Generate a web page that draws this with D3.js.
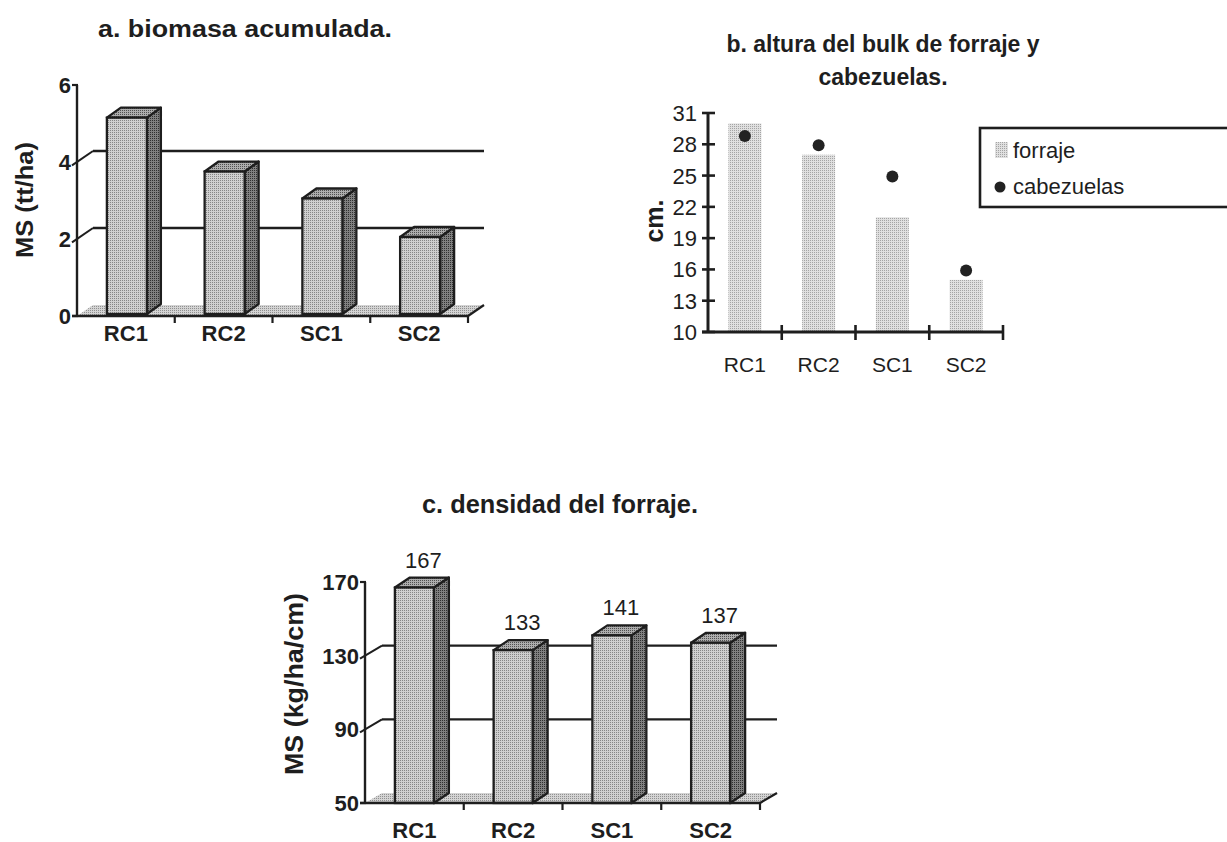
<!DOCTYPE html>
<html>
<head>
<meta charset="utf-8">
<script src="https://cdn.jsdelivr.net/npm/d3@7"></script>
<style>
  body { margin: 0; background: #fff; }
  svg { display: block; }
  text { font-family: "Liberation Sans", Arial, Helvetica, sans-serif; fill: #1e1e1e; }
</style>
</head>
<body>
<svg id="fig" width="1227" height="842"></svg>
<script>
// ---- data ----
const categories = ["RC1", "RC2", "SC1", "SC2"];

// a. biomasa acumulada (MS, tt/ha)
const biomasa = [5.1, 3.7, 3.0, 2.0];
const biomasaTicks = [0, 2, 4, 6];

// b. altura del bulk de forraje y cabezuelas (cm)
const forraje = [30, 27, 21, 15];
const cabezuelas = [28.8, 27.9, 24.9, 15.9];
const alturaTicks = [10, 13, 16, 19, 22, 25, 28, 31];

// c. densidad del forraje (MS, kg/ha/cm)
const densidad = [167, 133, 141, 137];
const densidadTicks = [50, 90, 130, 170];

const ink = "#1e1e1e";
const svg = d3.select("#fig");

// ---- stippled fills ----
const defs = svg.append("defs");
function stipple(id, base, dot) {
  const p = defs.append("pattern").attr("id", id)
    .attr("patternUnits", "userSpaceOnUse").attr("width", 2).attr("height", 2);
  p.append("rect").attr("width", 2).attr("height", 2).attr("fill", base);
  p.append("rect").attr("width", 1).attr("height", 1).attr("fill", dot);
  return `url(#${id})`;
}
const fillFront = stipple("front", "#cfcfcf", "#858585");
const fillSide = stipple("side", "#808080", "#303030");
const fillTop = stipple("top", "#adadad", "#505050");
const fillFloor = stipple("floor", "#d4d4d4", "#909090");
const fillLight = stipple("light", "#e0e0e0", "#a4a4a4");

// ---- 3D column chart ----
function columns3d(opt) {
  const g = svg.append("g");
  const x = d3.scaleBand().domain(categories).range(opt.xRange);
  const y = d3.scaleLinear().domain(opt.yDomain).range(opt.yRange);
  const [dx, dy] = opt.depth;
  const [bx, by] = opt.barDepth;
  const [ix, iy] = opt.inset;
  const y0 = y(opt.yDomain[0]);
  const [xl, xr] = opt.xRange;

  // back-wall gridlines
  g.selectAll(".grid").data(opt.grid).join("line")
    .attr("x1", xl + dx).attr("x2", xr + dx)
    .attr("y1", d => y(d) + dy).attr("y2", d => y(d) + dy)
    .attr("stroke", ink).attr("stroke-width", 2.4);

  // slanted depth ticks joining the axis to the wall
  g.selectAll(".dtick").data(opt.grid).join("line")
    .attr("x1", xl - 5).attr("y1", d => y(d) - dy * 5 / dx)
    .attr("x2", xl + dx).attr("y2", d => y(d) + dy)
    .attr("stroke", ink).attr("stroke-width", 2);

  // floor
  g.append("polygon")
    .attr("points", [[xl, y0], [xr, y0], [xr + dx, y0 + dy], [xl + dx, y0 + dy]].join(" "))
    .attr("fill", fillFloor).attr("stroke", "none");

  // columns
  const bw = opt.barWidth;
  const bars = g.selectAll(".bar").data(opt.values).join("g");
  const left = (d, i) => x(categories[i]) + x.bandwidth() / 2 - bw / 2 + ix;
  bars.append("polygon") // side face
    .attr("points", (d, i) => {
      const a = left(d, i) + bw, t = y(d) + iy, b = y0 + iy;
      return [[a, t], [a + bx, t + by], [a + bx, b + by], [a, b]].join(" ");
    })
    .attr("fill", fillSide).attr("stroke", ink).attr("stroke-width", 2.3).attr("stroke-linejoin", "round");
  bars.append("polygon") // top face
    .attr("points", (d, i) => {
      const a = left(d, i), t = y(d) + iy;
      return [[a, t], [a + bx, t + by], [a + bw + bx, t + by], [a + bw, t]].join(" ");
    })
    .attr("fill", fillTop).attr("stroke", ink).attr("stroke-width", 2.3).attr("stroke-linejoin", "round");
  bars.append("rect") // front face
    .attr("x", (d, i) => left(d, i)).attr("y", d => y(d) + iy)
    .attr("width", bw).attr("height", d => y0 - y(d))
    .attr("fill", fillFront).attr("stroke", ink).attr("stroke-width", 2.3);

  // value axis
  g.append("line").attr("x1", xl).attr("x2", xl)
    .attr("y1", y0).attr("y2", y(opt.yDomain[1]))
    .attr("stroke", ink).attr("stroke-width", 2.4);
  g.selectAll(".ltick").data([opt.yDomain[0], opt.yDomain[1]]).join("line")
    .attr("x1", xl - 5).attr("x2", xl + 1)
    .attr("y1", d => y(d)).attr("y2", d => y(d))
    .attr("stroke", ink).attr("stroke-width", 2.2);
  g.selectAll(".ylab").data(opt.ticks).join("text")
    .attr("x", xl - 6).attr("y", d => y(d) + 8)
    .attr("text-anchor", "end").attr("font-weight", "bold")
    .attr("font-size", opt.tickSize).text(d => d);

  // category axis
  g.append("line").attr("x1", xl - 5).attr("x2", xr)
    .attr("y1", y0).attr("y2", y0).attr("stroke", ink).attr("stroke-width", 2.6);
  g.append("line").attr("x1", xr).attr("y1", y0).attr("x2", xr + dx).attr("y2", y0 + dy)
    .attr("stroke", ink).attr("stroke-width", 2.2);
  g.selectAll(".xtick").data(categories).join("line")
    .attr("x1", d => x(d) + x.bandwidth()).attr("x2", d => x(d) + x.bandwidth())
    .attr("y1", y0).attr("y2", y0 + 7)
    .attr("stroke", ink).attr("stroke-width", 2.2);
  g.selectAll(".xlab").data(categories).join("text")
    .attr("x", d => x(d) + x.bandwidth() / 2).attr("y", opt.xLabelY)
    .attr("text-anchor", "middle").attr("font-weight", "bold")
    .attr("font-size", opt.xLabelSize).text(d => d);

  // titles
  g.append("text").attr("x", opt.title.x).attr("y", opt.title.y)
    .attr("text-anchor", "middle").attr("font-weight", "bold")
    .attr("font-size", opt.title.size)
    .attr("textLength", opt.title.len).attr("lengthAdjust", "spacingAndGlyphs")
    .text(opt.title.text);
  g.append("text")
    .attr("transform", `translate(${opt.yTitle.x},${opt.yTitle.y}) rotate(-90)`)
    .attr("text-anchor", "middle").attr("font-weight", "bold")
    .attr("font-size", opt.yTitle.size)
    .attr("textLength", opt.yTitle.len).attr("lengthAdjust", "spacingAndGlyphs")
    .text(opt.yTitle.text);

  return { g, x, y, bw, left, iy, by, bx };
}

// ---- a. biomasa acumulada ----
columns3d({
  values: biomasa, ticks: biomasaTicks, grid: [2, 4],
  xRange: [77, 468], yDomain: [0, 6], yRange: [316, 85],
  depth: [16, -11], barDepth: [14, -10], inset: [1, -2], barWidth: 40,
  tickSize: 22, xLabelSize: 22, xLabelY: 341,
  title: { text: "a. biomasa acumulada.", x: 245, y: 37, size: 23, len: 294 },
  yTitle: { text: "MS (tt/ha)", x: 33, y: 200, size: 24, len: 116 }
});

// ---- c. densidad del forraje ----
const c = columns3d({
  values: densidad, ticks: densidadTicks, grid: [90, 130],
  xRange: [365, 760], yDomain: [50, 170], yRange: [803, 582],
  depth: [17, -10], barDepth: [15, -10], inset: [0, 0], barWidth: 39,
  tickSize: 22, xLabelSize: 22, xLabelY: 838,
  title: { text: "c. densidad del forraje.", x: 560, y: 513, size: 25, len: 276 },
  yTitle: { text: "MS (kg/ha/cm)", x: 303, y: 684, size: 25, len: 182 }
});
c.g.selectAll(".val").data(densidad).join("text")
  .attr("x", (d, i) => c.left(d, i) + c.bw / 2 + 9)
  .attr("y", d => c.y(d) + c.by - 10)
  .attr("text-anchor", "middle").attr("font-size", 22)
  .text(d => d);

// ---- b. altura del bulk de forraje y cabezuelas ----
{
  const g = svg.append("g");
  const x = d3.scaleBand().domain(categories).range([708, 1003]);
  const y = d3.scaleLinear().domain([10, 31]).range([332, 113]);
  const bw = 33;

  g.selectAll(".bar").data(forraje).join("rect")
    .attr("x", (d, i) => x(categories[i]) + x.bandwidth() / 2 - bw / 2)
    .attr("y", d => y(d)).attr("width", bw).attr("height", d => y(10) - y(d))
    .attr("fill", fillLight);

  g.selectAll(".dot").data(cabezuelas).join("circle")
    .attr("cx", (d, i) => x(categories[i]) + x.bandwidth() / 2)
    .attr("cy", d => y(d)).attr("r", 6).attr("fill", "#222");

  // value axis with crossing ticks
  g.append("line").attr("x1", 708).attr("x2", 708).attr("y1", y(10)).attr("y2", y(31))
    .attr("stroke", ink).attr("stroke-width", 3);
  g.selectAll(".yt").data(alturaTicks).join("line")
    .attr("x1", 702).attr("x2", 715).attr("y1", d => y(d)).attr("y2", d => y(d))
    .attr("stroke", ink).attr("stroke-width", 2.6);
  g.selectAll(".yl").data(alturaTicks).join("text")
    .attr("x", 697).attr("y", d => y(d) + 8).attr("text-anchor", "end")
    .attr("font-size", 22).text(d => d);

  // category axis
  g.append("line").attr("x1", 702).attr("x2", 1003).attr("y1", y(10)).attr("y2", y(10))
    .attr("stroke", ink).attr("stroke-width", 3);
  g.selectAll(".xt").data(categories).join("line")
    .attr("x1", d => x(d) + x.bandwidth()).attr("x2", d => x(d) + x.bandwidth())
    .attr("y1", y(10) - 7).attr("y2", y(10) + 8)
    .attr("stroke", ink).attr("stroke-width", 2.6);
  g.selectAll(".xl").data(categories).join("text")
    .attr("x", d => x(d) + x.bandwidth() / 2).attr("y", 372)
    .attr("text-anchor", "middle").attr("font-size", 21).text(d => d);

  // titles
  const t = g.append("text").attr("text-anchor", "middle").attr("font-weight", "bold").attr("font-size", 23);
  t.append("tspan").attr("x", 883).attr("y", 52).text("b. altura del bulk de forraje y");
  t.append("tspan").attr("x", 883).attr("y", 85).text("cabezuelas.");
  g.append("text").attr("transform", "translate(663,221) rotate(-90)")
    .attr("text-anchor", "middle").attr("font-weight", "bold").attr("font-size", 25)
    .text("cm.");

  // legend
  const lg = g.append("g");
  lg.append("rect").attr("x", 980).attr("y", 128).attr("width", 262).attr("height", 79)
    .attr("fill", "#fff").attr("stroke", ink).attr("stroke-width", 2.6);
  lg.append("rect").attr("x", 995).attr("y", 142).attr("width", 13).attr("height", 16)
    .attr("fill", fillLight);
  lg.append("text").attr("x", 1013).attr("y", 158).attr("font-size", 22).text("forraje");
  lg.append("circle").attr("cx", 1000).attr("cy", 187).attr("r", 5.5).attr("fill", "#222");
  lg.append("text").attr("x", 1013).attr("y", 194).attr("font-size", 22).text("cabezuelas");
}
</script>
</body>
</html>
